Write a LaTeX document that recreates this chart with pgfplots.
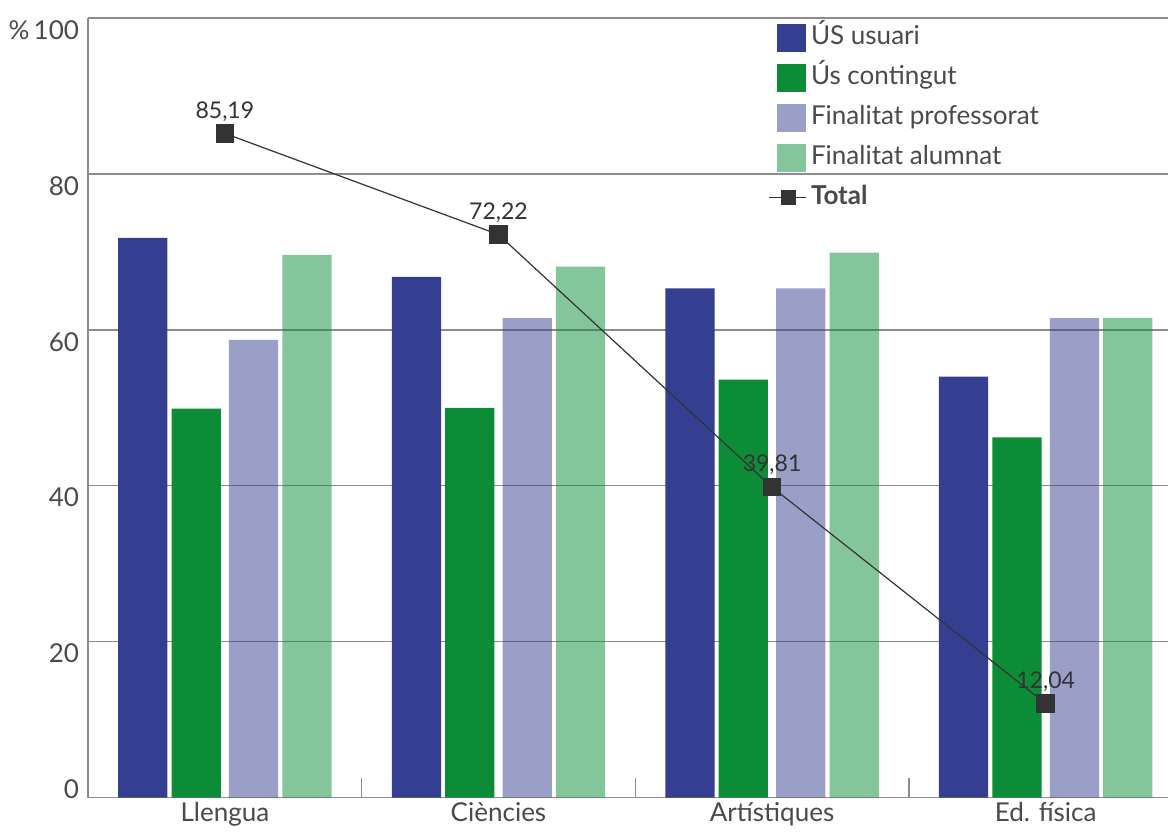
\documentclass[border=0pt]{standalone}
\usepackage{pgfplots}
\pgfplotsset{compat=1.18}
\usepackage{fontspec}
\setmainfont{Lato}
\definecolor{cblue}{HTML}{353F91}
\definecolor{cgreen}{HTML}{0C8C37}
\definecolor{ctxt}{HTML}{4A4A4A}
\definecolor{cgrid}{HTML}{8C8C8C}
\definecolor{cline}{HTML}{333333}
\begin{document}
\begin{tikzpicture}
\begin{axis}[name=ax, scale only axis, width=540pt, height=389.5pt,
  xmin=-0.5, xmax=3.45, ymin=0, ymax=100,
  axis x line*=bottom, axis y line*=left,
  axis line style={cgrid, line width=0.7pt, -},
  ytick={20,40,60,80,100}, yticklabels={20,40,60,80,{\%\,100}},
  extra y ticks={0}, extra y tick labels={0},
  extra y tick style={yticklabel style={anchor=south east, inner ysep=0pt, yshift=0pt}},
  ymajorgrids, grid style={cgrid, line width=0.7pt},
  major tick length=0pt,
  xtick={0,1,2,3}, xticklabels={Llengua,Ciències,Artístiques,Ed. física},
  extra x ticks={0.5,1.5,2.5}, extra x tick labels={},
  extra x tick style={major tick length=10pt, tick align=inside, xmajorgrids=false, major tick style={cgrid, line width=0.7pt}},
  yticklabel style={anchor=north east, inner ysep=0pt, yshift=-1pt, xshift=-1pt},
  ticklabel style={font=\fontsize{13}{15}\selectfont, text=ctxt},
  xticklabel style={yshift=1pt},
  /pgf/number format/assume math mode=true,
  legend style={at={(0.6295,0.997)}, anchor=north west, draw=none, fill=none,
    font=\fontsize{13}{15}\selectfont, text=ctxt, row sep=3pt, inner sep=0pt,
    nodes={text height=10pt, text depth=3pt}},
  legend cell align=left,
  clip=false,
]
\addplot[ybar, bar width=0.18, bar shift=-0.3, fill=cblue, draw=none,
  legend image code/.code={\fill[cblue] (2pt,-7pt) rectangle (16.5pt,7pt);}]
  coordinates {(0,71.8) (1,66.8) (2,65.3) (3,54.0)};
\addlegendentry{ÚS usuari}
\addplot[ybar, bar width=0.18, bar shift=-0.105, fill=cgreen, draw=none,
  legend image code/.code={\fill[cgreen] (2pt,-7pt) rectangle (16.5pt,7pt);}]
  coordinates {(0,49.9) (1,50.0) (2,53.6) (3,46.2)};
\addlegendentry{Ús contingut}
\addplot[ybar, bar width=0.18, bar shift=0.105, fill=cblue, fill opacity=0.5, draw=none,
  legend image code/.code={\fill[cblue, fill opacity=0.5] (2pt,-7pt) rectangle (16.5pt,7pt);}]
  coordinates {(0,58.7) (1,61.5) (2,65.3) (3,61.5)};
\addlegendentry{Finalitat professorat}
\addplot[ybar, bar width=0.18, bar shift=0.3, fill=cgreen, fill opacity=0.5, draw=none,
  legend image code/.code={\fill[cgreen, fill opacity=0.5] (2pt,-7pt) rectangle (16.5pt,7pt);}]
  coordinates {(0,69.6) (1,68.1) (2,69.9) (3,61.5)};
\addlegendentry{Finalitat alumnat}
\addplot[cline, line width=0.6pt, mark=square*, mark size=4.3pt,
  mark options={fill=cline, draw=cline},
  nodes near coords, point meta=explicit symbolic,
  every node near coord/.append style={font=\fontsize{11.5}{13}\selectfont, text=cline, anchor=south, yshift=2.5pt, text height=, text depth=},
  legend image code/.code={\draw[cline, line width=0.6pt] (-2pt,0pt) -- (16.5pt,0pt);
     \fill[cline] (4pt,-3.5pt) rectangle (11pt,3.5pt);}]
  coordinates {(0,85.19) [85,19] (1,72.22) [72,22] (2,39.81) [39,81] (3,12.04) [12,04]};
\addlegendentry{\textbf{Total}}
\end{axis}
\pgfresetboundingbox
\path[use as bounding box] (ax.south west) ++(-44pt,-17.5pt) rectangle ([yshift=9pt,xshift=-0.4pt]ax.north east);
\end{tikzpicture}
\end{document}
